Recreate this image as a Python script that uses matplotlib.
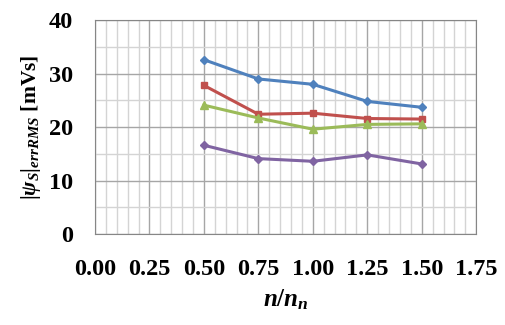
import matplotlib
matplotlib.use("Agg")
import matplotlib.pyplot as plt
from matplotlib.ticker import MultipleLocator, FormatStrFormatter

plt.rcParams['font.family'] = ['Liberation Serif', 'DejaVu Serif']
plt.rcParams['font.weight'] = 'bold'
plt.rcParams['mathtext.fontset'] = 'custom'
plt.rcParams['mathtext.rm'] = 'Liberation Serif:bold'
plt.rcParams['mathtext.it'] = 'Liberation Serif:italic:bold'
plt.rcParams['mathtext.bf'] = 'Liberation Serif:bold'

x = [0.50, 0.75, 1.00, 1.25, 1.50]
blue = [32.6, 29.0, 28.0, 24.8, 23.7]
red = [27.8, 22.4, 22.6, 21.6, 21.5]
green = [24.1, 21.7, 19.6, 20.5, 20.6]
purple = [16.6, 14.1, 13.6, 14.8, 13.1]

fig = plt.figure(figsize=(5.05, 3.25), dpi=100)
ax = fig.add_axes([0.188, 0.28, 0.755, 0.658])

ax.plot(x, blue, color='#4F81BD', lw=2.2, marker='D', ms=4.5)
ax.plot(x, red, color='#C0504D', lw=2.2, marker='s', ms=5)
ax.plot(x, green, color='#9BBB59', lw=2.2, marker='^', ms=5.5)
ax.plot(x, purple, color='#8064A2', lw=2.2, marker='D', ms=4.5)

ax.set_xlim(0, 1.75)
ax.set_ylim(0, 40)
ax.xaxis.set_major_locator(MultipleLocator(0.25))
ax.xaxis.set_minor_locator(MultipleLocator(0.05))
ax.yaxis.set_major_locator(MultipleLocator(10))
ax.yaxis.set_minor_locator(MultipleLocator(5))
ax.xaxis.set_major_formatter(FormatStrFormatter('%.2f'))
ax.grid(which='major', color='#a6a6a6', lw=1.0)
ax.grid(which='minor', color='#d4d4d4', lw=1.0)
ax.set_axisbelow(True)
ax.tick_params(which='both', length=0, labelsize=17.5)
ax.tick_params(axis='x', pad=18)
ax.tick_params(axis='y', pad=16)
for lab in ax.get_xticklabels() + ax.get_yticklabels():
    lab.set_fontweight('bold')
for s in ax.spines.values():
    s.set_color('#868686')

ax.set_xlabel(r'$n/n_n$', fontsize=18, labelpad=5)
ax.set_ylabel(r'$|\psi_S|_{errRMS}$ [mVs]', fontsize=15.5, fontweight='bold', labelpad=4)

fig.savefig('out.png', dpi=100)
